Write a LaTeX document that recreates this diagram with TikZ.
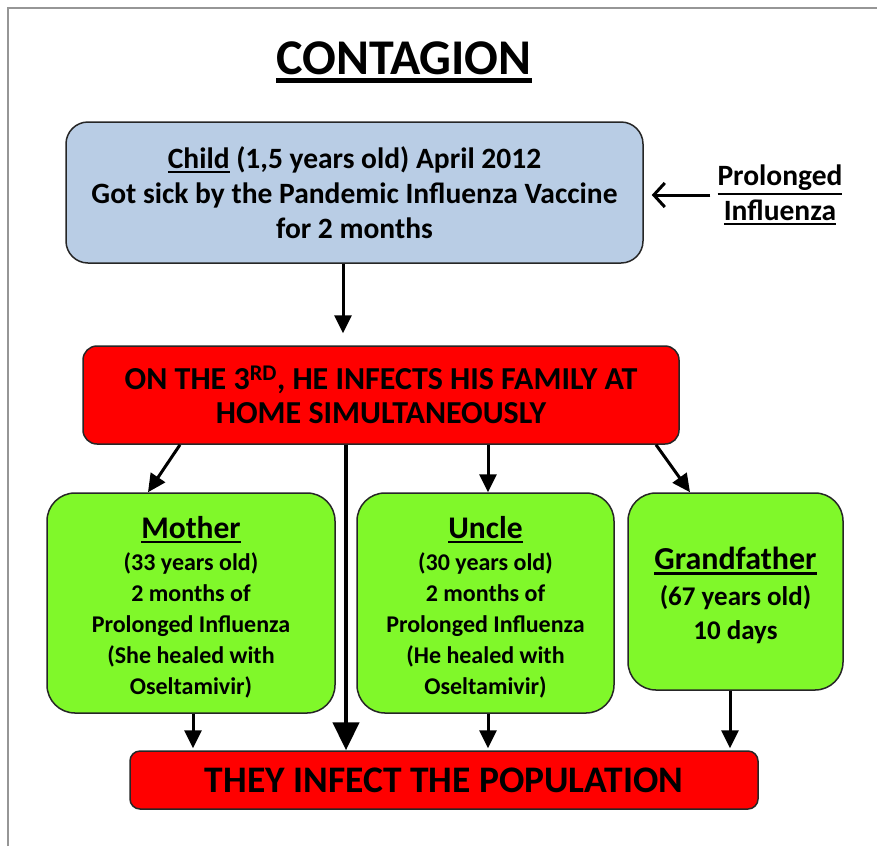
\documentclass[tikz,border=0pt]{standalone}
\usepackage{fontspec}
\setmainfont{Carlito}
\usetikzlibrary{arrows.meta}
\definecolor{boxblue}{RGB}{185,205,229}
\definecolor{boxred}{RGB}{255,0,0}
\definecolor{boxgreen}{RGB}{128,248,42}
\definecolor{framegray}{RGB}{150,150,150}
\newcommand{\ulx}[2][0.075em]{\leavevmode\vtop{\hbox{#2}\kern0.08em\hrule height #1}}
\tikzset{
  box/.style={draw=black!85, line width=1.5pt, align=center, inner sep=0pt},
  bluebox/.style={box, fill=boxblue, rounded corners=22pt},
  redbox/.style={box, fill=boxred, rounded corners=14pt},
  greenbox/.style={box, fill=boxgreen, rounded corners=28pt},
  boxtext/.style={align=center, inner sep=0pt},
  arr/.style={line width=3pt, -{Triangle[length=18pt,width=17pt]}},
  bigarr/.style={line width=4.5pt, -{Triangle[length=28pt,width=26pt]}},
  openarr/.style={line width=3pt, -{Straight Barb[length=11pt,width=24pt,line width=3pt]}},
  lbl/.style={align=center, inner sep=0pt, font=\bfseries\fontsize{29.5}{35}\selectfont},
}
\begin{document}
\begin{tikzpicture}[x=1pt, y=-1pt]
\useasboundingbox (0,0) rectangle (877,846);
\fill[white] (0,0) rectangle (877,846);
\draw[framegray, line width=2pt] (8,846) -- (8,8) -- (877,8);

% title
\node[inner sep=0pt, font=\bfseries\fontsize{50}{58}\selectfont] (title) at (404,62) {\ulx[0.085em]{CONTAGION}};

% child box
\node[bluebox, minimum width=577pt, minimum height=141pt,
      font=\bfseries\fontsize{29.5}{35}\selectfont] (child) at (354.5,192.5)
  {\ulx{Child} (1,5 years old) April 2012\\Got sick by the Pandemic Influenza Vaccine\\for 2 months};

% prolonged label
\node[lbl] (plab) at (780,195) {\ulx{Prolonged}\\\ulx{Influenza}};

% spread box
\node[redbox, minimum width=596pt, minimum height=98pt,
      font=\bfseries\fontsize{32}{34}\selectfont] (spread) at (381,395)
  {ON THE 3\textsuperscript{RD}, HE INFECTS HIS FAMILY AT\\HOME SIMULTANEOUSLY};

% family boxes
\node[greenbox, minimum width=288pt, minimum height=220pt] (mother) at (191,603) {};
\node[boxtext, font=\bfseries\fontsize{24}{31}\selectfont] (mothertext) at ([yshift=-4pt]mother.center)
  {{\fontsize{31.5}{31}\selectfont\ulx{Mother}}\\[1pt](33 years old)\\2 months of\\Prolonged Influenza\\(She healed with\\Oseltamivir)};
\node[greenbox, minimum width=257pt, minimum height=220pt] (uncle) at (485.5,603) {};
\node[boxtext, font=\bfseries\fontsize{24}{31}\selectfont] (uncletext) at ([yshift=-4pt]uncle.center)
  {{\fontsize{31.5}{31}\selectfont\ulx{Uncle}}\\[1pt](30 years old)\\2 months of\\Prolonged Influenza\\(He healed with\\Oseltamivir)};
\node[greenbox, minimum width=215pt, minimum height=197pt] (grand) at (735.5,591.5) {};
\node[boxtext, font=\bfseries\fontsize{27}{34}\selectfont] (grandtext) at ([yshift=-4pt]grand.center)
  {{\fontsize{32}{34}\selectfont\ulx{Grandfather}}\\[2pt](67 years old)\\10 days};

% population box
\node[redbox, rounded corners=10pt, minimum width=628pt, minimum height=58pt,
      font=\bfseries\fontsize{37.5}{40}\selectfont] (pop) at (444,780)
  {THEY INFECT THE POPULATION};

% x positions for connectors
\coordinate (xc) at (343,0);
\coordinate (xm1) at (180,0);
\coordinate (xm2) at (148,0);
\coordinate (xmid) at (346,0);
\coordinate (xu) at (488,0);
\coordinate (xg1) at (656,0);
\coordinate (xg2) at (690,0);
\coordinate (xmb) at (193,0);
\coordinate (xgb) at (730,0);

% connectors
\draw[openarr, shorten <=7pt, shorten >=8pt] (plab.west) -- (plab.west -| child.east);
\draw[arr, shorten >=12pt] (child.south -| xc) -- (spread.north -| xc);
\draw[arr] (spread.south -| xm1) -- (mother.north -| xm2);
\draw[bigarr] (spread.south -| xmid) -- (pop.north -| xmid);
\draw[arr] (spread.south -| xu) -- (uncle.north -| xu);
\draw[arr] (spread.south -| xg1) -- (grand.north -| xg2);
\draw[arr, shorten >=2pt] (mother.south -| xmb) -- (pop.north -| xmb);
\draw[arr, shorten >=2pt] (uncle.south -| xu) -- (pop.north -| xu);
\draw[arr, shorten >=2pt] (grand.south -| xgb) -- (pop.north -| xgb);
\end{tikzpicture}
\end{document}
